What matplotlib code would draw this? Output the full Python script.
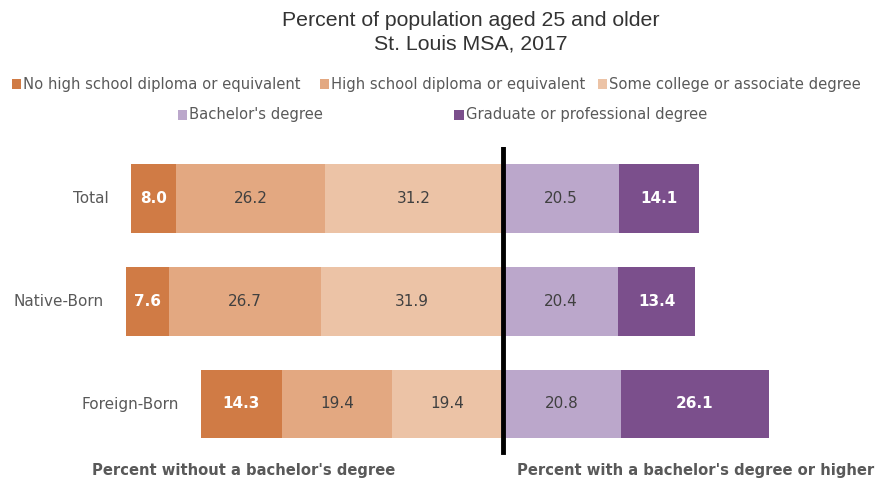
import matplotlib
matplotlib.use("Agg")
import matplotlib.pyplot as plt
from matplotlib.patches import Rectangle

categories = ["Total", "Native-Born", "Foreign-Born"]
series_names = ["No high school diploma or equivalent",
                "High school diploma or equivalent",
                "Some college or associate degree",
                "Bachelor's degree",
                "Graduate or professional degree"]
no_hs = [8.0, 7.6, 14.3]
hs = [26.2, 26.7, 19.4]
some_college = [31.2, 31.9, 19.4]
bachelors = [20.5, 20.4, 20.8]
graduate = [14.1, 13.4, 26.1]

colors = ["#D07B45", "#E3A881", "#ECC3A6", "#BBA7CB", "#7B4F8C"]
text_grey = "#595959"

W, H = 877, 478
fig = plt.figure(figsize=(W / 100, H / 100), dpi=100)

center_px = 502.5
scale = 5.685  # px per percent
xlim = (-center_px / scale, (W - center_px) / scale)
ax = fig.add_axes([0, 1 - 455.4 / H, 1, (455.4 - 147) / H])
ax.set_xlim(*xlim)
ax.set_ylim(2.5, -0.5)
ax.axis("off")

bh = 0.67
for i, cat in enumerate(categories):
    left_vals = [no_hs[i], hs[i], some_college[i]]
    right_vals = [bachelors[i], graduate[i]]
    start = -sum(left_vals)
    pos = start
    for j, v in enumerate(left_vals):
        ax.barh(i, v, left=pos, height=bh, color=colors[j], linewidth=0)
        bold = j == 0
        ax.text(pos + v / 2, i, f"{v:.1f}", ha="center", va="center",
                fontsize=11, fontweight="bold" if bold else "normal",
                color="white" if bold else "#404040", family="DejaVu Sans")
        pos += v
    pos = 0
    for j, v in enumerate(right_vals):
        k = j + 3
        ax.barh(i, v, left=pos, height=bh, color=colors[k], linewidth=0)
        bold = k == 4
        ax.text(pos + v / 2, i, f"{v:.1f}", ha="center", va="center",
                fontsize=11, fontweight="bold" if bold else "normal",
                color="white" if bold else "#404040", family="DejaVu Sans")
        pos += v
    ax.annotate(cat, xy=(start, i), xytext=(-16, 0), textcoords="offset points",
                ha="right", va="center", fontsize=11, color=text_grey,
                family="DejaVu Sans")

ax.axvline(0, color="black", linewidth=3.5, ymin=0.01, ymax=1)

# Title
fig.text(471 / W, 1 - 20 / H, "Percent of population aged 25 and older",
         ha="center", va="center", fontsize=15.3, family="Liberation Sans", color="#333333")
fig.text(471 / W, 1 - 44 / H, "St. Louis MSA, 2017",
         ha="center", va="center", fontsize=15.3, family="Liberation Sans", color="#333333")

# Legend (manual)
legend_pos = [(16, 84), (324, 84), (602, 84), (182, 115), (459, 115)]
for name, col, (x, y) in zip(series_names, colors, legend_pos):
    fig.patches.append(Rectangle(((x - 4.5) / W, 1 - (y + 4.5) / H), 9 / W, 9 / H,
                                 transform=fig.transFigure, color=col, linewidth=0))
    fig.text((x + 7) / W, 1 - y / H, name, ha="left", va="center",
             fontsize=10.6, color=text_grey, family="DejaVu Sans")

# Bottom labels
fig.text(244 / W, 1 - 470 / H, "Percent without a bachelor's degree",
         ha="center", va="center", fontsize=10.6, fontweight="bold", color=text_grey,
         family="DejaVu Sans")
fig.text(517 / W, 1 - 470 / H, "Percent with a bachelor's degree or higher",
         ha="left", va="center", fontsize=10.6, fontweight="bold", color=text_grey,
         family="DejaVu Sans")

fig.savefig("out.png", dpi=100)
